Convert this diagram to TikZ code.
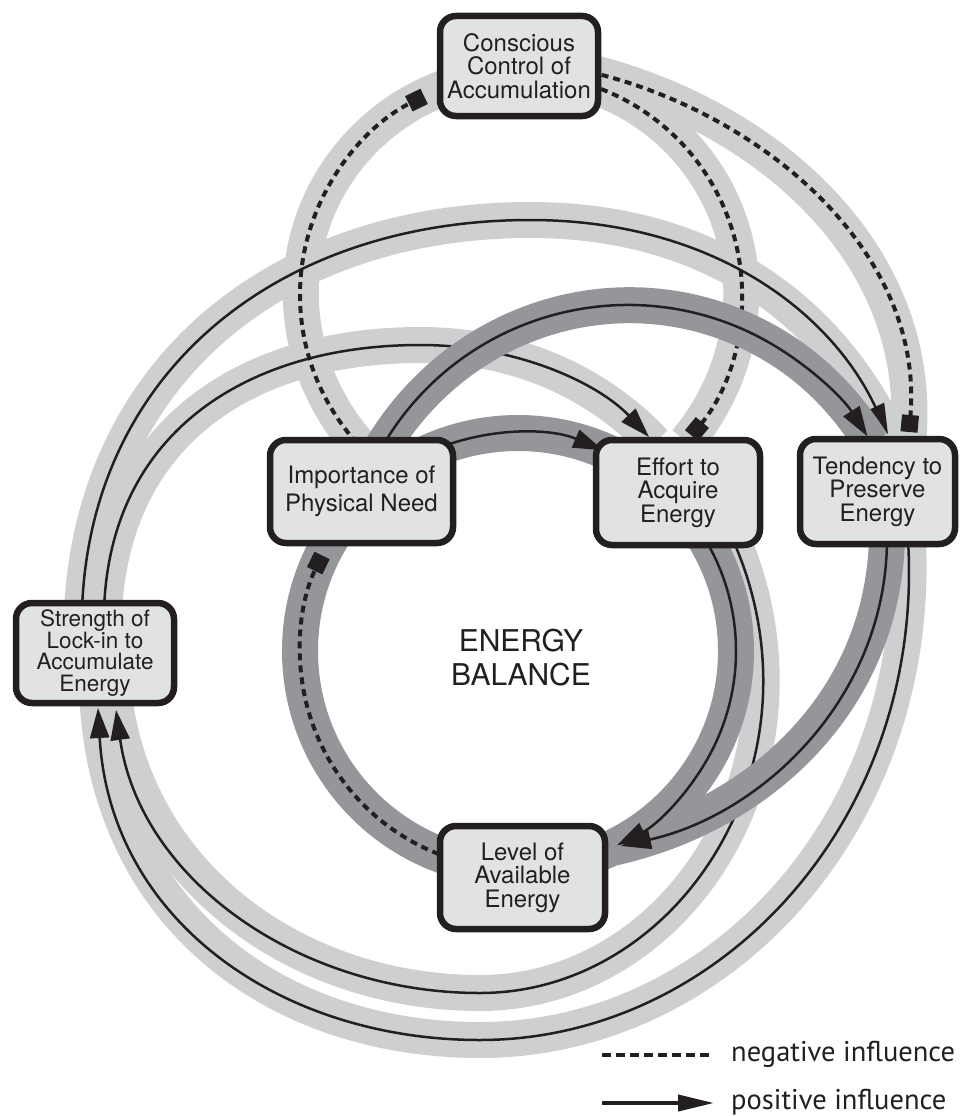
\documentclass[tikz,border=0pt]{standalone}
\usepackage{fontspec}
\setmainfont{TeX Gyre Heros}
\newfontfamily\legendfont{PT Sans}
\usetikzlibrary{arrows.meta}
\definecolor{bandlight}{RGB}{205,207,209}
\definecolor{banddark}{RGB}{148,150,153}
\definecolor{boxfill}{RGB}{225,226,228}
\definecolor{ink}{RGB}{35,31,32}
\pgfdeclarelayer{lightband}
\pgfdeclarelayer{lightline}
\pgfdeclarelayer{darkband}
\pgfdeclarelayer{darkline}
\pgfsetlayers{lightband,lightline,darkband,darkline,main}
\begin{document}
\begin{tikzpicture}[x=1pt,y=-1pt,
  lband/.style={draw=bandlight,line width=36pt},
  dband/.style={draw=banddark,line width=36pt},
  ext/.style={shorten <=-8pt,shorten >=-8pt},
  posline/.style={draw=ink,line width=2.5pt,-{Triangle[length=30pt,width=19pt]}},
  negline/.style={draw=ink,line width=4pt,dash pattern=on 7pt off 5pt,-{Square[length=17pt,width=17pt]}},
  box/.style={draw=ink,fill=boxfill,line width=6.5pt,rounded corners=16pt,align=center,
    inner sep=0pt,text=ink,font=\fontsize{24}{23.5}\selectfont},
  legendtext/.style={anchor=base west,inner sep=0pt,text=ink,font=\legendfont\fontsize{28.5}{30}\selectfont}]
\useasboundingbox (0,0) rectangle (959,1116);

% variables
\node[box,minimum width=158pt,minimum height=100pt] (C) at (519,66) {Conscious\\Control of\\Accumulation};
\node[box,minimum width=183pt,minimum height=103pt,font=\fontsize{24}{27.5}\selectfont] (I) at (361.5,491.5) {Importance of\\Physical Need};
\node[box,minimum width=164pt,minimum height=105pt] (E) at (678,492.5) {Effort to\\Acquire\\Energy};
\node[box,minimum width=155pt,minimum height=105pt] (T) at (877.5,491.5) {Tendency to\\Preserve\\Energy};
\node[box,minimum width=158pt,minimum height=100pt,font=\fontsize{22.5}{21.5}\selectfont] (S) at (95,653) {Strength of\\Lock-in to\\Accumulate\\Energy};
\node[box,minimum width=165pt,minimum height=103pt] (L) at (522.5,877.5) {Level of\\Available\\Energy};
\node[align=center,text=ink,font=\fontsize{30}{34}\selectfont] (B) at (521,658) {ENERGY\\BALANCE};

% centres of the circular loops
\coordinate (balc) at (518,651);
\coordinate (ctlc) at (521,295);
\coordinate (arcc) at (628,589);

% end points of the connectors
\coordinate (IE-a) at ([shift={(-112:218)}]balc);
\coordinate (EL-a) at ([shift={(-33:218)}]balc);
\coordinate (LI-a) at ([shift={(105:218)}]balc);
\coordinate (IT-a) at ([shift={(-150:284)}]arcc);
\coordinate (TL-a) at (887,540);
\coordinate (TL-b) at (621,846);
\coordinate (IC-a) at ([shift={(138:221)}]ctlc);
\coordinate (CE-a) at ([shift={(-75:221)}]ctlc);
\coordinate (CT-a) at (590,72);
\coordinate (CT-b) at (909,432);
\coordinate (ST-a) at (82,610);
\coordinate (ST-b) at (888,434);
\coordinate (SE-a) at (104,610);
\coordinate (SE-b) at (649,437);
\coordinate (ES-a) at (733,540);
\coordinate (ES-b) at (116,710);
\coordinate (TS-a) at (908,540);
\coordinate (TS-b) at (98,708);

% light loops
\begin{pgfonlayer}{lightband}
  \draw[lband,ext] (IC-a) arc[start angle=138,end angle=399.5,radius=221];
  \draw[lband,ext] (CT-a) .. controls (760,112) and (925,250) .. (CT-b);
  \draw[lband,ext] (ST-a) .. controls (90,370) and (280,220) .. (530,220)
                          .. controls (710,220) and (830,310) .. (ST-b);
  \draw[lband,ext] (SE-a) .. controls (110,430) and (250,345) .. (420,345)
                          .. controls (520,345) and (600,385) .. (SE-b);
  \draw[lband,ext] (ES-a) .. controls (830,760) and (680,993) .. (480,993)
                          .. controls (300,993) and (140,880) .. (ES-b);
  \draw[lband,ext] (TS-a) .. controls (925,820) and (720,1040) .. (480,1040)
                          .. controls (280,1040) and (110,920) .. (TS-b);
\end{pgfonlayer}
\begin{pgfonlayer}{lightline}
  \draw[negline] (IC-a) arc[start angle=138,end angle=244,radius=221];
  \draw[negline] (CE-a) arc[start angle=-75,end angle=39.5,radius=221];
  \draw[negline] (CT-a) .. controls (760,112) and (925,250) .. (CT-b);
  \draw[posline] (ST-a) .. controls (90,370) and (280,220) .. (530,220)
                    .. controls (710,220) and (830,310) .. (ST-b);
  \draw[posline] (SE-a) .. controls (110,430) and (250,345) .. (420,345)
                    .. controls (520,345) and (600,385) .. (SE-b);
  \draw[posline] (ES-a) .. controls (830,760) and (680,993) .. (480,993)
                    .. controls (300,993) and (140,880) .. (ES-b);
  \draw[posline] (TS-a) .. controls (925,820) and (720,1040) .. (480,1040)
                    .. controls (280,1040) and (110,920) .. (TS-b);
\end{pgfonlayer}

% dark loops
\begin{pgfonlayer}{darkband}
  \draw[dband] (balc) circle[radius=218];
  \draw[dband,ext] (IT-a) arc[start angle=-150,end angle=-32.5,radius=284];
  \draw[dband,ext] (TL-a) .. controls (886,700) and (760,815) .. (TL-b);
\end{pgfonlayer}
\begin{pgfonlayer}{darkline}
  \draw[posline] (IE-a) arc[start angle=-112,end angle=-67,radius=218];
  \draw[posline] (EL-a) arc[start angle=-33,end angle=63,radius=218];
  \draw[negline] (LI-a) arc[start angle=105,end angle=206,radius=218];
  \draw[posline] (IT-a) arc[start angle=-150,end angle=-32.5,radius=284];
  \draw[posline] (TL-a) .. controls (886,700) and (760,815) .. (TL-b);
\end{pgfonlayer}

% legend
\coordinate (lgn-a) at (602,1055);
\coordinate (lgn-b) at (713,1055);
\coordinate (lgp-a) at (602,1103);
\coordinate (lgp-b) at (714,1103);
\draw[draw=ink,line width=4pt,dash pattern=on 9pt off 5pt] (lgn-a) -- (lgn-b);
\draw[draw=ink,line width=4pt,-{Triangle[length=36pt,width=16pt]}] (lgp-a) -- (lgp-b);
\node[legendtext] (lgn) at (731,1061) {negative influence};
\node[legendtext] (lgp) at (731,1109) {positive influence};
\end{tikzpicture}
\end{document}
